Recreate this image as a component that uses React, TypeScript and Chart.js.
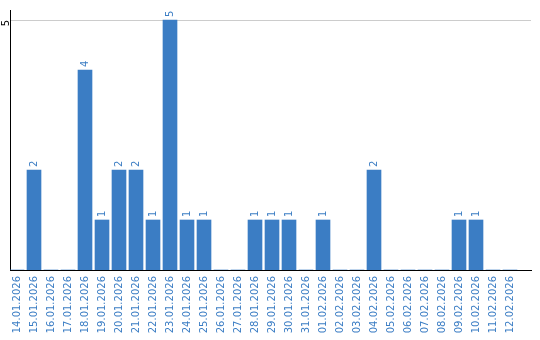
import React, { useEffect, useRef } from "react";
import { Chart, registerables } from "chart.js";

Chart.register(...registerables);

const categories = [
  "14.01.2026", "15.01.2026", "16.01.2026", "17.01.2026", "18.01.2026",
  "19.01.2026", "20.01.2026", "21.01.2026", "22.01.2026", "23.01.2026",
  "24.01.2026", "25.01.2026", "26.01.2026", "27.01.2026", "28.01.2026",
  "29.01.2026", "30.01.2026", "31.01.2026", "01.02.2026", "02.02.2026",
  "03.02.2026", "04.02.2026", "05.02.2026", "06.02.2026", "07.02.2026",
  "08.02.2026", "09.02.2026", "10.02.2026", "11.02.2026", "12.02.2026",
];
const counts = [
  0, 2, 0, 0, 4, 1, 2, 2, 1, 5,
  1, 1, 0, 0, 1, 1, 1, 0, 1, 0,
  0, 2, 0, 0, 0, 0, 1, 1, 0, 0,
];
const yTicks = [5];

const BLUE = "#3b7dc4";
const FONT = "'DejaVu Sans', Verdana, sans-serif";

const valueLabels = {
  id: "valueLabels",
  afterDatasetsDraw(chart: any) {
    const ctx = chart.ctx;
    const meta = chart.getDatasetMeta(0);
    ctx.save();
    ctx.fillStyle = BLUE;
    ctx.font = `10px ${FONT}`;
    ctx.textAlign = "left";
    ctx.textBaseline = "middle";
    meta.data.forEach((bar: any, i: number) => {
      const v = counts[i];
      if (!v) return;
      ctx.save();
      ctx.translate(bar.x, bar.y - 3);
      ctx.rotate(-Math.PI / 2);
      ctx.fillText(String(v), 0, 0);
      ctx.restore();
    });
    ctx.restore();
  },
};

export default function App() {
  const ref = useRef<HTMLCanvasElement>(null);
  useEffect(() => {
    document.body.style.margin = "0";
    const chart = new Chart(ref.current!, {
      type: "bar",
      data: {
        datasets: [
          {
            data: counts.map((y, x) => ({ x, y })),
            backgroundColor: BLUE,
            borderWidth: 0,
            barThickness: 14,
          },
        ],
      },
      options: {
        responsive: false,
        animation: false,
        layout: { padding: { top: 10, right: 9, left: 0, bottom: 0 } },
        plugins: { legend: { display: false }, tooltip: { enabled: false } },
        scales: {
          x: {
            type: "linear",
            min: -7 / 17,
            max: -7 / 17 + 521 / 17,
            offset: false,
            grid: { display: false, drawTicks: false },
            border: { display: true, color: "#000", width: 1 },
            afterBuildTicks: (scale: any) => {
              scale.ticks = categories.map((_, i) => ({ value: i }));
            },
            afterFit: (scale: any) => {
              scale.height = 70;
            },
            ticks: {
              autoSkip: false,
              minRotation: 90,
              maxRotation: 90,
              padding: 6,
              color: BLUE,
              font: { family: FONT, size: 10 },
              callback: (v: any) => categories[v as number] ?? "",
            },
          },
          y: {
            min: 0,
            max: 5.2,
            grid: { color: "#cccccc", drawTicks: false },
            border: { display: true, color: "#000", width: 1 },
            afterBuildTicks: (scale: any) => {
              scale.ticks = yTicks.map((value) => ({ value }));
            },
            afterFit: (scale: any) => {
              scale.width = 10;
            },
            ticks: {
              minRotation: 90,
              maxRotation: 90,
              padding: 4,
              color: "#000",
              font: { family: FONT, size: 10 },
            },
          },
        },
      },
      plugins: [valueLabels],
    } as any);
    return () => chart.destroy();
  }, []);
  return (
    <div style={{ width: 540, height: 340 }}>
      <canvas ref={ref} width={540} height={340} style={{ display: "block" }} />
    </div>
  );
}
